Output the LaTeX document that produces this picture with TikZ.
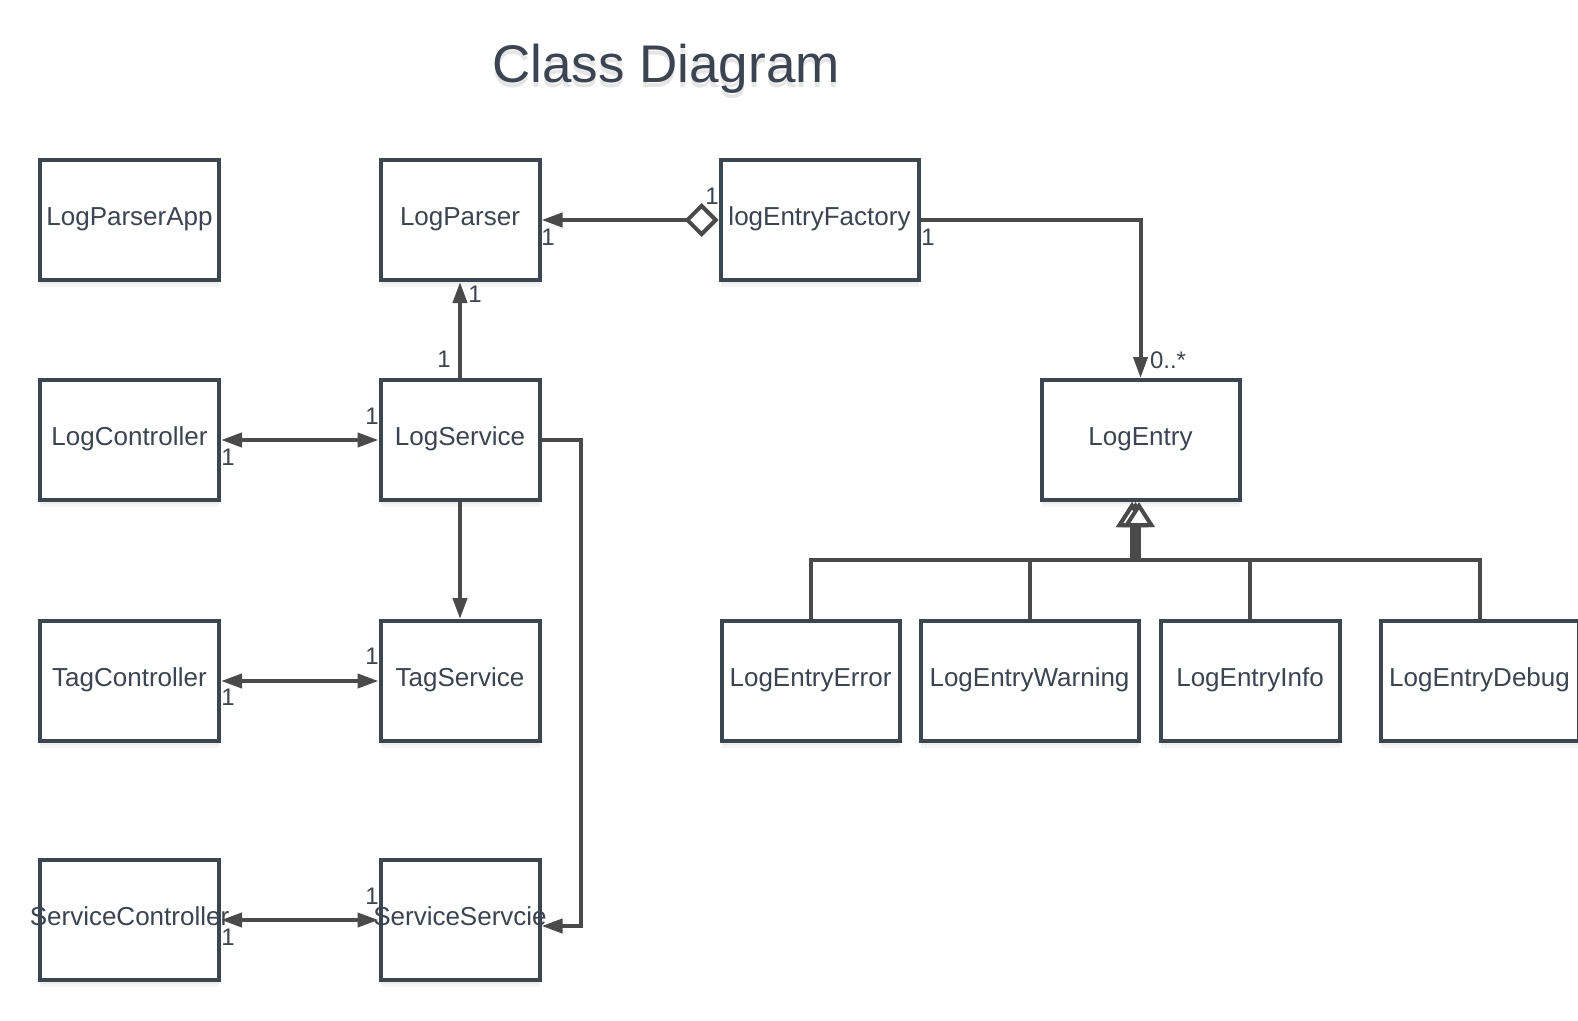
\documentclass[tikz,border=0pt]{standalone}
\usepackage{fontspec}
\setmainfont{Liberation Sans}
\usetikzlibrary{arrows.meta,shadows}
\definecolor{boxc}{HTML}{3C4651}
\definecolor{txtc}{HTML}{3B4450}
\definecolor{linec}{HTML}{4A4A4A}
\begin{document}
\begin{tikzpicture}[x=1pt,y=-1pt,
  cls/.style={draw=boxc, line width=4pt, fill=white, minimum height=120pt, inner sep=0pt,
    drop shadow={shadow xshift=0pt,shadow yshift=-7pt,opacity=0.07},
    drop shadow={shadow xshift=0pt,shadow yshift=-4pt,opacity=0.08}},
  lbl/.style={font=\fontsize{26}{30}\selectfont, text=txtc, text height=19pt, text depth=5pt, inner sep=0pt, yshift=2pt},
  mult/.style={font=\fontsize{24}{28}\selectfont, text=txtc, inner sep=0pt},
  conn/.style={draw=linec, line width=4pt},
  tri/.tip={Triangle[length=21pt,width=14pt]},
  dia/.tip={Diamond[open,length=34pt,width=34pt]},
  gen/.tip={Triangle[fill=white,length=25pt,width=31pt]}
]
\useasboundingbox (0,0) rectangle (1578,1020);
\clip (0,0) rectangle (1578,1020);

% title with soft shadow
\node[anchor=base, font=\fontsize{53}{60}\selectfont, text=black, opacity=0.10] (tshadow) at (666,87) {Class Diagram};
\node[anchor=base, font=\fontsize{53}{60}\selectfont, text=txtc] (title) at (666,82) {Class Diagram};

% column 1
\node[cls, minimum width=179pt, label={[lbl]center:LogParserApp}] (lpa) at (129.5,220) {};
\node[cls, minimum width=179pt, label={[lbl]center:LogController}] (lc) at (129.5,440) {};
\node[cls, minimum width=179pt, label={[lbl]center:TagController}] (tc) at (129.5,681) {};
\node[cls, minimum width=179pt, label={[lbl]center:ServiceController}] (sc) at (129.5,920) {};
% column 2
\node[cls, minimum width=159pt, label={[lbl]center:LogParser}] (lp) at (460,220) {};
\node[cls, minimum width=159pt, label={[lbl]center:LogService}] (ls) at (460,440) {};
\node[cls, minimum width=159pt, label={[lbl]center:TagService}] (ts) at (460,681) {};
\node[cls, minimum width=159pt, label={[lbl]center:ServiceServcie}] (ss) at (460,920) {};
% right side
\node[cls, minimum width=198pt, label={[lbl]center:logEntryFactory}] (lef) at (819.5,220) {};
\node[cls, minimum width=198pt, label={[lbl]center:LogEntry}] (le) at (1140.5,440) {};
\node[cls, minimum width=178pt, label={[lbl]center:LogEntryError}] (lee) at (810.5,681) {};
\node[cls, minimum width=218pt, label={[lbl]center:LogEntryWarning}] (lew) at (1029.5,681) {};
\node[cls, minimum width=179pt, label={[lbl]center:LogEntryInfo}] (lei) at (1250,681) {};
\node[cls, minimum width=198pt, label={[lbl]center:LogEntryDebug}] (led) at (1479.5,681) {};

% connectors
\draw[conn,{dia}-{tri}] (lef.west) -- (lp.east);
\draw[conn,-{tri}] (lef.east) -| (le.north);
\draw[conn,-{tri}] (ls.north) -- (lp.south);
\draw[conn,{tri}-{tri}] (lc.east) -- (ls.west);
\draw[conn,-{tri}] (ls.south) -- (ts.north);
\draw[conn,{tri}-{tri}] (tc.east) -- (ts.west);
\draw[conn,{tri}-{tri}] (sc.east) -- (ss.west);
\coordinate (bend) at (581,926);
\draw[conn,-{tri}] (ls.east) -| (bend) -- (ss.east |- bend);

% generalization
\coordinate (gl) at (1132,560);
\coordinate (gm) at (1135.5,560);
\coordinate (gr) at (1139,560);
\draw[conn,-{gen}] (led.north) |- (gm) -- (gm |- le.south);
\draw[conn,-{gen}] (lee.north) |- (gl) -- (gl |- le.south);
\draw[conn,-{gen}] (lew.north) |- (gl) -- (gl |- le.south);
\draw[conn,-{gen}] (lei.north) |- (gr) -- (gr |- le.south);

% multiplicities
\node[mult] (m1) at (548,237) {1};
\node[mult] (m2) at (712,196) {1};
\node[mult] (m3) at (928,237) {1};
\node[mult] (m4) at (1168,360) {0..*};
\node[mult] (m5) at (475,294) {1};
\node[mult] (m6) at (444,359) {1};
\node[mult] (m7) at (228,457) {1};
\node[mult] (m8) at (372,416) {1};
\node[mult] (m9) at (228,697) {1};
\node[mult] (m10) at (372,656) {1};
\node[mult] (m11) at (228,937) {1};
\node[mult] (m12) at (372,896) {1};
\end{tikzpicture}
\end{document}
